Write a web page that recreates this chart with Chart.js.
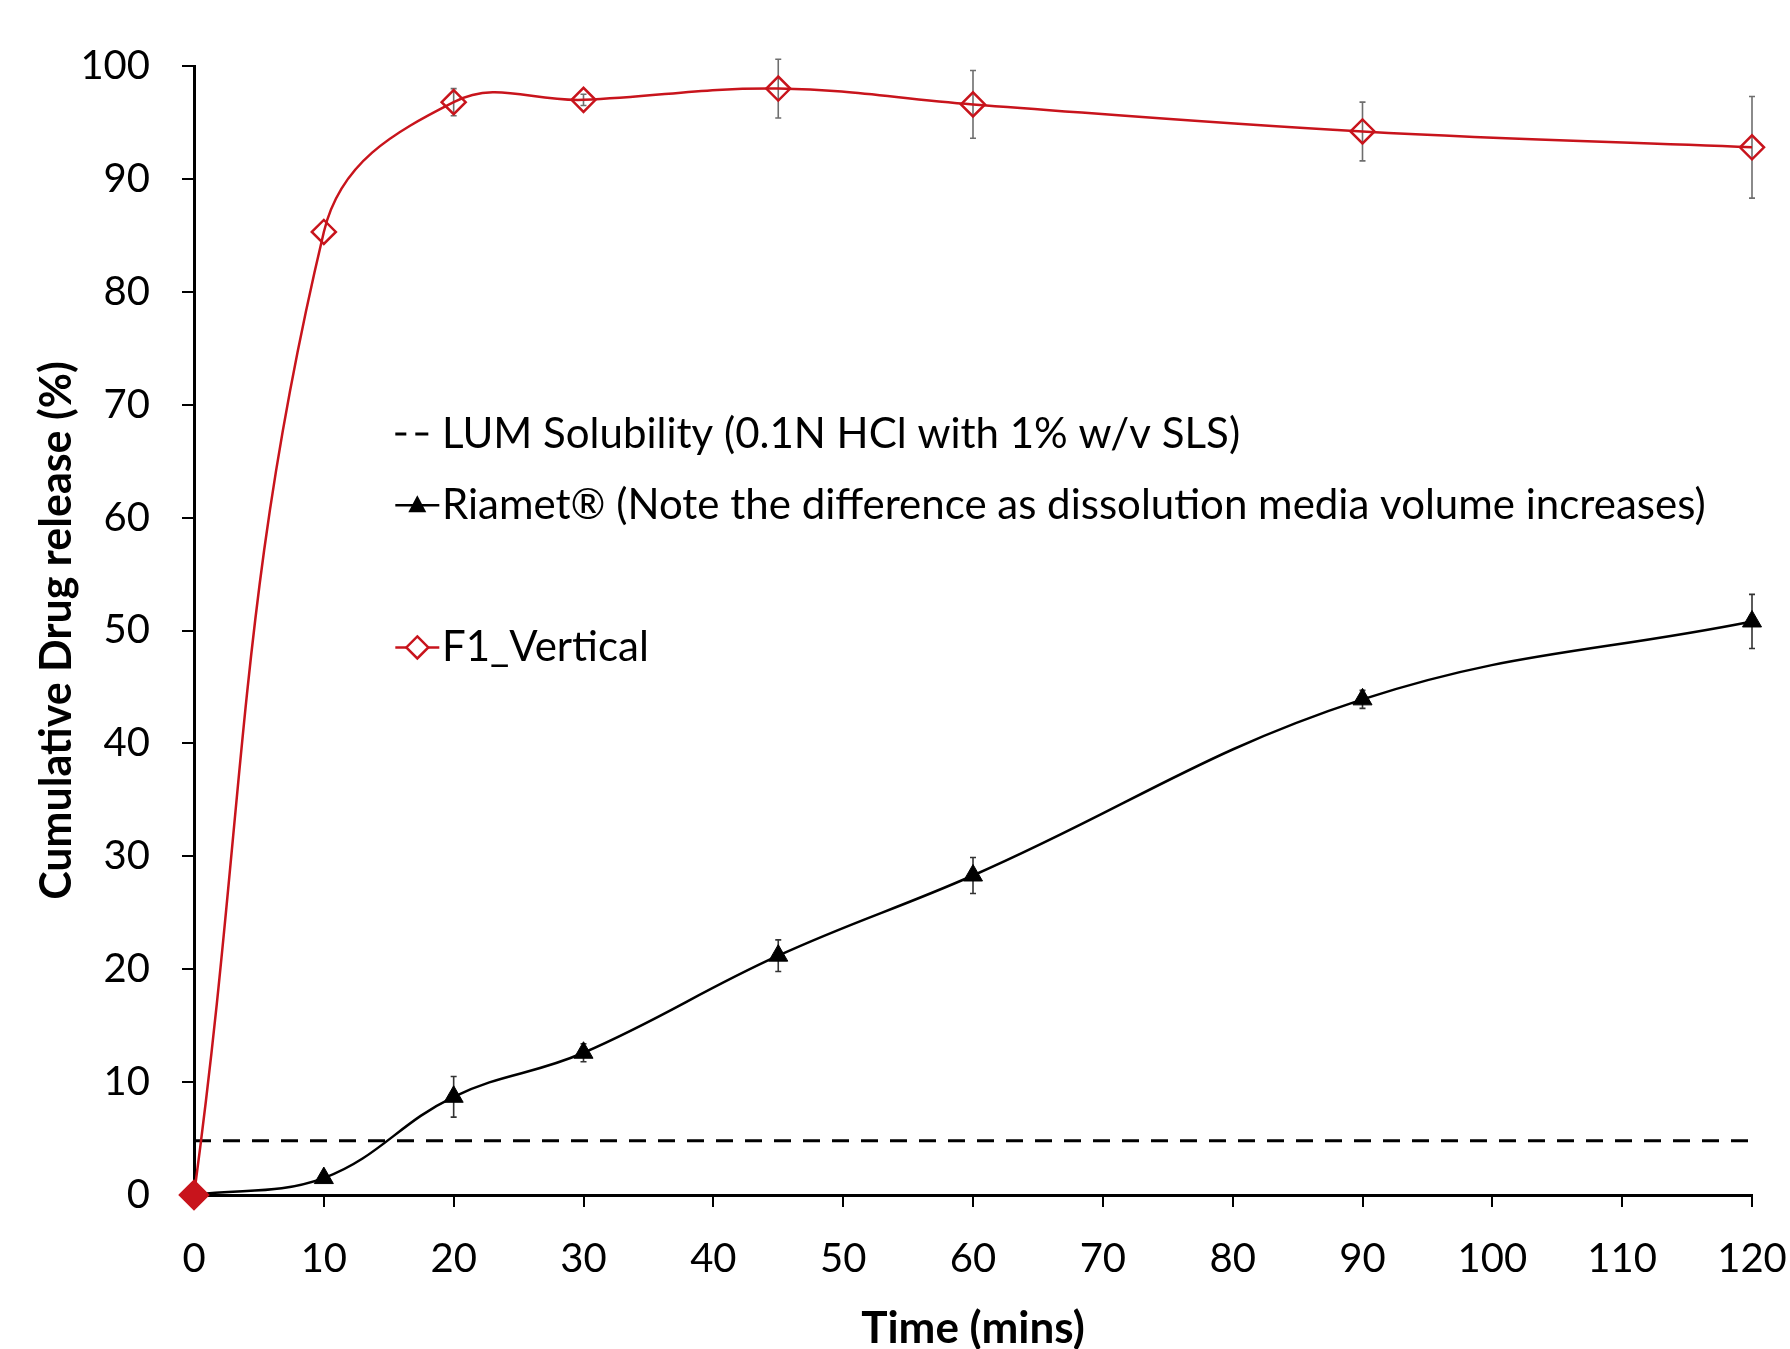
<!DOCTYPE html>
<html>
<head>
<meta charset="utf-8">
<script src="https://cdn.jsdelivr.net/npm/chart.js@4/dist/chart.umd.min.js"></script>
<style>
  html, body { margin: 0; padding: 0; background: #fff; }
</style>
</head>
<body>
<canvas id="releaseChart" width="1790" height="1349"></canvas>
<script>
// dissolution profile data
const timePoints = [0, 10, 20, 30, 45, 60, 90, 120];
const f1Vertical = [0, 85.3, 96.8, 97.0, 98.0, 96.6, 94.2, 92.8];
const f1Err = [0, 0, 1.2, 0.5, 2.6, 3.0, 2.6, 4.5];
const riamet = [0, 1.5, 8.7, 12.6, 21.2, 28.3, 43.9, 50.8];
const riametErr = [0, 0.3, 1.8, 0.8, 1.4, 1.6, 0.8, 2.4];
const solubilityX = [0, 120];
const solubility = [4.8, 4.8];
const legendLabels = [
  'LUM Solubility (0.1N HCl with 1% w/v SLS)',
  'Riamet\u00AE (Note the difference as dissolution media volume increases)',
  'F1_Vertical'
];

const RED = '#c8141c';
const FONT = 'Lato, "Open Sans", sans-serif';

function toPoints(xs, ys) {
  return xs.map((x, i) => ({ x: x, y: ys[i] }));
}

// error bars drawn under the lines and markers
const errorBars = {
  id: 'errorBars',
  beforeDatasetsDraw(chart) {
    const ctx = chart.ctx;
    const xs = chart.scales.x, ys = chart.scales.y;
    const sets = [
      { vals: f1Vertical, err: f1Err, color: '#6e6e6e' },
      { vals: riamet, err: riametErr, color: '#333' }
    ];
    ctx.save();
    ctx.lineWidth = 1.6;
    sets.forEach(s => {
      ctx.strokeStyle = s.color;
      timePoints.forEach((t, i) => {
        if (!s.err[i]) return;
        const px = xs.getPixelForValue(t);
        const top = ys.getPixelForValue(s.vals[i] + s.err[i]);
        const bot = ys.getPixelForValue(s.vals[i] - s.err[i]);
        ctx.beginPath();
        ctx.moveTo(px, top); ctx.lineTo(px, bot);
        ctx.moveTo(px - 3, top); ctx.lineTo(px + 3, top);
        ctx.moveTo(px - 3, bot); ctx.lineTo(px + 3, bot);
        ctx.stroke();
      });
    });
    ctx.restore();
  }
};

// legend sits inside the plot, like the original
const insideLegend = {
  id: 'insideLegend',
  afterDraw(chart) {
    const ctx = chart.ctx;
    const xs = chart.scales.x, ys = chart.scales.y;
    const symX = xs.getPixelForValue(17.2);
    const textX = xs.getPixelForValue(19.1);
    const rows = [67.4, 61.1, 48.5].map(v => ys.getPixelForValue(v));
    ctx.save();
    ctx.font = '42px ' + FONT;
    ctx.fillStyle = '#000';
    ctx.textBaseline = 'middle';
    ctx.textAlign = 'left';

    // two short dashes
    ctx.strokeStyle = '#000';
    ctx.lineWidth = 3;
    ctx.beginPath();
    ctx.moveTo(symX - 22, rows[0]); ctx.lineTo(symX - 11, rows[0]);
    ctx.moveTo(symX - 2, rows[0]); ctx.lineTo(symX + 11, rows[0]);
    ctx.stroke();

    // triangle symbol
    ctx.lineWidth = 2.5;
    ctx.beginPath();
    ctx.moveTo(symX - 22, rows[1]); ctx.lineTo(symX + 22, rows[1]);
    ctx.stroke();
    ctx.beginPath();
    ctx.moveTo(symX, rows[1] - 10);
    ctx.lineTo(symX + 9, rows[1] + 7);
    ctx.lineTo(symX - 9, rows[1] + 7);
    ctx.closePath();
    ctx.fill();

    // diamond symbol
    ctx.strokeStyle = RED;
    ctx.beginPath();
    ctx.moveTo(symX - 22, rows[2]); ctx.lineTo(symX + 22, rows[2]);
    ctx.stroke();
    ctx.beginPath();
    ctx.moveTo(symX, rows[2] - 11);
    ctx.lineTo(symX + 11, rows[2]);
    ctx.lineTo(symX, rows[2] + 11);
    ctx.lineTo(symX - 11, rows[2]);
    ctx.closePath();
    ctx.fillStyle = '#fff';
    ctx.fill();
    ctx.stroke();

    ctx.fillStyle = '#000';
    legendLabels.forEach((lbl, i) => ctx.fillText(lbl, textX, rows[i]));
    ctx.restore();
  }
};

const config = {
  type: 'line',
  data: {
    datasets: [
      {
        label: legendLabels[2],
        data: toPoints(timePoints, f1Vertical),
        clip: false,
        borderColor: RED,
        borderWidth: 2.5,
        tension: 0.4,
        pointStyle: 'rectRot',
        pointRadius: c => c.dataIndex === 0 ? 14 : 12,
        pointBorderWidth: 2.5,
        pointBorderColor: RED,
        pointBackgroundColor: c => c.dataIndex === 0 ? RED : 'rgba(255,255,255,0)'
      },
      {
        label: legendLabels[1],
        data: toPoints(timePoints, riamet),
        clip: false,
        borderColor: '#000',
        borderWidth: 2.5,
        tension: 0.4,
        pointStyle: 'triangle',
        pointRadius: 11,
        pointBorderWidth: 1,
        pointBorderColor: '#000',
        pointBackgroundColor: '#000'
      },
      {
        label: legendLabels[0],
        data: toPoints(solubilityX, solubility),
        borderColor: '#000',
        borderWidth: 3,
        borderDash: [17, 12],
        pointRadius: 0
      }
    ]
  },
  options: {
    responsive: false,
    animation: false,
    devicePixelRatio: 1,
    layout: { padding: { top: 66, right: 38, bottom: 0, left: 0 } },
    plugins: {
      legend: { display: false },
      tooltip: { enabled: false }
    },
    scales: {
      x: {
        type: 'linear',
        min: 0,
        max: 120,
        ticks: { stepSize: 10, color: '#000', font: { family: FONT, size: 40 }, padding: 28, maxRotation: 0 },
        grid: { drawOnChartArea: false, drawTicks: true, tickLength: 12, color: '#000', lineWidth: 2 },
        border: { color: '#000', width: 3 },
        title: { display: true, text: 'Time (mins)', color: '#000', font: { family: FONT, size: 44, weight: 'bold', lineHeight: 1 }, padding: { top: 0, bottom: -2 } },
        afterFit(scale) {
          scale.height = 154;
          scale.paddingLeft = 0;
          scale.paddingRight = 0;
        }
      },
      y: {
        min: 0,
        max: 100,
        ticks: { stepSize: 10, color: '#000', font: { family: FONT, size: 40 }, padding: 32 },
        grid: { drawOnChartArea: false, drawTicks: true, tickLength: 12, color: '#000', lineWidth: 2 },
        border: { color: '#000', width: 3 },
        title: { display: true, text: 'Cumulative Drug release (%)', color: '#000', font: { family: FONT, size: 43, weight: 'bold', lineHeight: 1 }, padding: { top: 36, bottom: 0 } },
        afterFit(scale) { scale.width = 194; }
      }
    }
  },
  plugins: [errorBars, insideLegend]
};

var myChart = new Chart(document.getElementById('releaseChart'), config);
</script>
</body>
</html>
